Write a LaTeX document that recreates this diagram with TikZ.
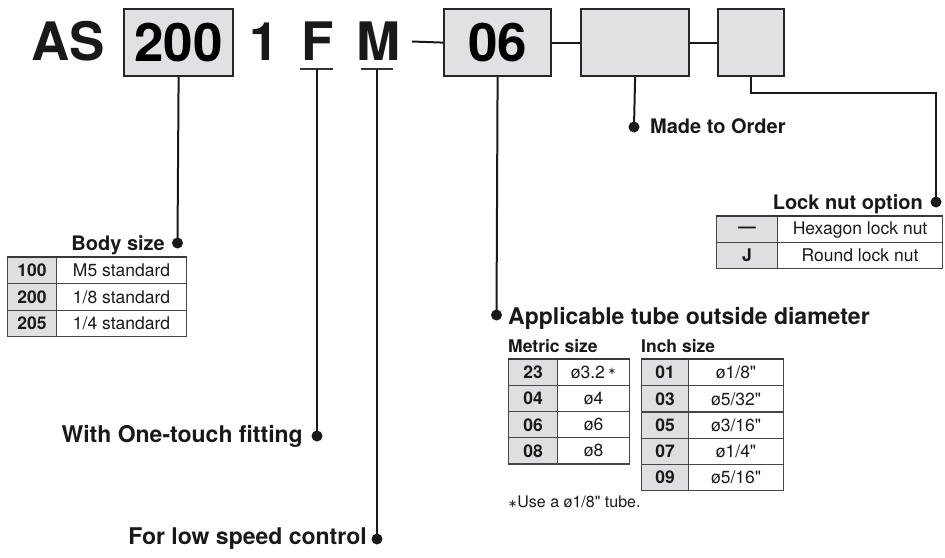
\documentclass[tikz,border=0pt]{standalone}
\usepackage{fontspec}
\setmainfont{TeX Gyre Heros}[Ligatures=TeXOff]
\newfontfamily\dejavu{DejaVu Sans}
\definecolor{boxgray}{RGB}{224,225,227}
\definecolor{cellgray}{RGB}{222,223,225}
\definecolor{edge}{RGB}{70,70,70}
\begin{document}
\begin{tikzpicture}[x=1pt,y=-1pt,
  codebox/.style={draw=black!85, line width=2.2pt, fill=boxgray, inner sep=0, anchor=north west, font=\fontsize{53}{53}\selectfont\bfseries},
  big/.style={font=\fontsize{53}{53}\selectfont\bfseries, inner sep=0, anchor=base, text=black!90},
  conn/.style={draw=black!90, line width=2pt},
  ubar/.style={draw=black!80, line width=1.6pt},
  dot/.style={circle, fill=black!90, inner sep=0, minimum size=11},
  hcell/.style={draw=edge, line width=1.1pt, fill=cellgray, inner sep=0, anchor=north west, font=\fontsize{17.5}{17.5}\selectfont\bfseries, text=black!90},
  vcell/.style={draw=edge, line width=1.1pt, fill=white, inner sep=0, anchor=north west, font=\fontsize{17.5}{17.5}\selectfont, text=black!90},
  toprule/.style={draw=edge!80!black, line width=2pt},
  lab/.style={font=\fontsize{20}{20}\selectfont\bfseries, inner sep=0, text=black!90},
  labL/.style={font=\fontsize{23}{23}\selectfont\bfseries, inner sep=0, text=black!90},
  labS/.style={font=\fontsize{17.5}{17.5}\selectfont\bfseries, inner sep=0, text=black!90},
  note/.style={font=\fontsize{16}{16}\selectfont, inner sep=0, text=black!90}
]
\useasboundingbox (0,0) rectangle (945,557);

% ---- top code row ----
\node[big, anchor=base west] (tAS) at (31,60) {AS};
\node[codebox, minimum width=109, minimum height=67] (b200) at (123,8) {200};
\node[big] (t1) at (264,60) {1};
\node[big] (tF) at (317.5,60) {F};
\node[big] (tM) at (378.5,60) {M};
\node[codebox, minimum width=107, minimum height=67] (b06) at (443,8) {06};
\node[codebox, minimum width=108, minimum height=67] (bMTO) at (580,8) {};
\node[codebox, minimum width=66, minimum height=67] (bLock) at (717,8) {};

\coordinate (uF1) at (300,69); \coordinate (uF2) at (333,69);
\coordinate (uM1) at (361,69); \coordinate (uM2) at (393,69);
\draw[ubar] (uF1) -- (uF2);
\draw[ubar] (uM1) -- (uM2);
\coordinate (fTop) at (317,69);
\coordinate (mTop) at (377,69);
\coordinate (mDash) at (412,41.5);

\draw[conn] (mDash) -- (b06.west);
\draw[conn] (b06.east) -- (bMTO.west);
\draw[conn] (bMTO.east) -- (bLock.west);

% ---- dots ----
\node[dot] (dBody) at (177.5,243) {};
\node[dot] (dF) at (317,436) {};
\node[dot] (dM) at (377,539) {};
\node[dot] (dTube) at (496.5,315) {};
\node[dot] (dMTO) at (634,127) {};
\node[dot] (dLock) at (936,202) {};
\coordinate (lockTurn) at (936,93);

\draw[conn] (b200.south) -- (dBody.center);
\draw[conn] (fTop) -- (dF.center);
\draw[conn] (mTop) -- (dM.center);
\draw[conn] (b06.south) -- (dTube.center);
\draw[conn] (bMTO.south) -- (dMTO.center);
\draw[conn] (bLock.south) |- (lockTurn) -- (dLock.center);

% ---- labels ----
\node[lab, anchor=base east] (tBody) at (165,250) {Body size};
\node[lab, anchor=base east] (tLock) at (923,209) {Lock nut option};
\node[lab, anchor=base west] (tMTO) at (650,133) {Made to Order};
\node[labL, anchor=base west] (tTube) at (508,324) {Applicable tube outside diameter};
\node[labS, anchor=base west] (tMetric) at (508,352) {Metric size};
\node[labS, anchor=base west] (tInch) at (641,352) {Inch size};
\node[labL, anchor=base east] (tFit) at (303,442) {With One-touch fitting};
\node[labL, anchor=base east] (tLow) at (367,544) {For low speed control};
\node[note, anchor=base west] (tNote) at (508,507) {{\dejavu\fontsize{11}{11}\selectfont ∗}Use a ø1/8" tube.};

% ---- body size table ----
\node[hcell, minimum width=49, minimum height=26.3] (k100) at (7,257) {100};
\node[vcell, minimum width=130, minimum height=26.3] (v100) at (56,257) {M5 standard};
\node[hcell, minimum width=49, minimum height=26.3] (k200) at (7,283.3) {200};
\node[vcell, minimum width=130, minimum height=26.3] (v200) at (56,283.3) {1/8 standard};
\node[hcell, minimum width=49, minimum height=26.3] (k205) at (7,309.6) {205};
\node[vcell, minimum width=130, minimum height=26.3] (v205) at (56,309.6) {1/4 standard};
\draw[toprule] (k100.north west) -- (v100.north east);

% ---- lock nut table ----
\node[hcell, minimum width=61, minimum height=26] (kHex) at (716,216) {—};
\node[vcell, minimum width=165, minimum height=26] (vHex) at (777,216) {Hexagon lock nut};
\node[hcell, minimum width=61, minimum height=26] (kJ) at (716,242) {J};
\node[vcell, minimum width=165, minimum height=26] (vJ) at (777,242) {Round lock nut};
\draw[toprule] (kHex.north west) -- (vHex.north east);

% ---- metric table ----
\node[hcell, minimum width=49, minimum height=26.1] (k23) at (508,359) {23};
\node[vcell, minimum width=72, minimum height=26.1] (v23) at (557,359) {ø3.2\,\raisebox{4pt}{\dejavu\fontsize{10}{10}\selectfont ∗}};
\node[hcell, minimum width=49, minimum height=26.1] (k04) at (508,385.1) {04};
\node[vcell, minimum width=72, minimum height=26.1] (v04) at (557,385.1) {ø4};
\node[hcell, minimum width=49, minimum height=26.1] (k06) at (508,411.2) {06};
\node[vcell, minimum width=72, minimum height=26.1] (v06) at (557,411.2) {ø6};
\node[hcell, minimum width=49, minimum height=26.1] (k08) at (508,437.3) {08};
\node[vcell, minimum width=72, minimum height=26.1] (v08) at (557,437.3) {ø8};
\draw[toprule] (k23.north west) -- (v23.north east);

% ---- inch table ----
\node[hcell, minimum width=47, minimum height=26.2] (k01) at (641,359) {01};
\node[vcell, minimum width=95, minimum height=26.2] (v01) at (688,359) {ø1/8"};
\node[hcell, minimum width=47, minimum height=26.2] (k03) at (641,385.2) {03};
\node[vcell, minimum width=95, minimum height=26.2] (v03) at (688,385.2) {ø5/32"};
\node[hcell, minimum width=47, minimum height=26.2] (k05) at (641,411.4) {05};
\node[vcell, minimum width=95, minimum height=26.2] (v05) at (688,411.4) {ø3/16"};
\node[hcell, minimum width=47, minimum height=26.2] (k07) at (641,437.6) {07};
\node[vcell, minimum width=95, minimum height=26.2] (v07) at (688,437.6) {ø1/4"};
\node[hcell, minimum width=47, minimum height=26.2] (k09) at (641,463.8) {09};
\node[vcell, minimum width=95, minimum height=26.2] (v09) at (688,463.8) {ø5/16"};
\draw[toprule] (k01.north west) -- (v01.north east);
\end{tikzpicture}
\end{document}
